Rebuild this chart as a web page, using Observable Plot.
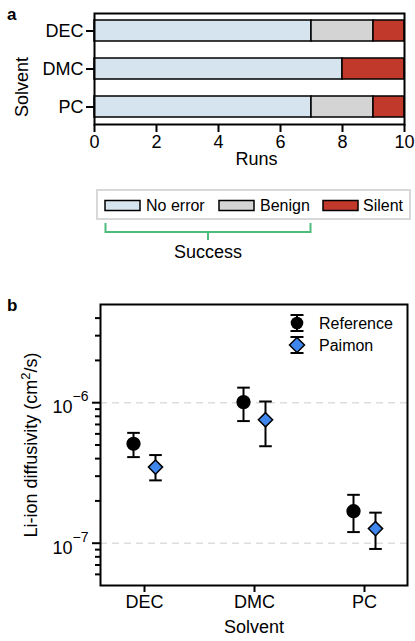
<!DOCTYPE html>
<html><head><meta charset="utf-8">
<script src="https://cdn.jsdelivr.net/npm/d3@7"></script>
<script src="https://cdn.jsdelivr.net/npm/@observablehq/plot@0.6"></script>
<style>
body{margin:0;background:#fff;font-family:"Liberation Sans",Arial,sans-serif;}
#root{position:relative;width:415px;height:641px;overflow:hidden;background:#fff;}
#root > svg, #root > div{position:absolute;}
</style></head><body><div id="root"></div>
<script>
// ---- Data: panel a ----
const solvents = ["DEC", "DMC", "PC"];
const outcomes = ["No error", "Benign", "Silent"];
const runsNoError = [7, 8, 7];
const runsBenign = [2, 0, 2];
const runsSilent = [1, 2, 1];
const outcomeColors = ["#d6e4f0", "#d4d4d4", "#c1392b"];
const runTicks = [0, 2, 4, 6, 8, 10];

// ---- Data: panel b ----
const seriesNames = ["Reference", "Paimon"];
const refValue = [5.1e-7, 1.01e-6, 1.69e-7];
const refLow = [4.1e-7, 7.4e-7, 1.2e-7];
const refHigh = [6.1e-7, 1.28e-6, 2.21e-7];
const paimonValue = [3.48e-7, 7.56e-7, 1.27e-7];
const paimonLow = [2.8e-7, 4.9e-7, 9.1e-8];
const paimonHigh = [4.24e-7, 1.02e-6, 1.65e-7];
const majorTicks = [1e-7, 1e-6];
const minorTicks = [6e-8, 7e-8, 8e-8, 9e-8, 2e-7, 3e-7, 4e-7, 5e-7, 6e-7, 7e-7, 8e-7, 9e-7, 2e-6, 3e-6, 4e-6];
const seriesColors = ["#000000", "#3f87ee"];

const font = '"Liberation Sans", Arial, sans-serif';
const root = document.getElementById("root");
const ns = "http://www.w3.org/2000/svg";

// ---- Panel a ----
const runRows = [];
solvents.forEach((s, i) => {
  [runsNoError[i], runsBenign[i], runsSilent[i]].forEach((v, j) => {
    if (v > 0) runRows.push({solvent: s, outcome: outcomes[j], runs: v});
  });
});

const plotA = Plot.plot({
  width: 415, height: 175,
  marginLeft: 94, marginRight: 11, marginTop: 13, marginBottom: 51,
  x: {domain: [0, 10]},
  y: {domain: solvents, paddingInner: 0.436, paddingOuter: 0.154},
  color: {domain: outcomes, range: outcomeColors},
  style: {fontFamily: font, fontSize: "18px", color: "black", background: "transparent", overflow: "visible"},
  marks: [
    Plot.barX(runRows, Plot.stackX({y: "solvent", x: "runs", fill: "outcome", stroke: "black", strokeWidth: 1.5})),
    Plot.frame({stroke: "black", strokeWidth: 2}),
    Plot.axisX({ticks: runTicks, tickSize: 8, strokeWidth: 2, tickPadding: 3, label: null, fontSize: 18}),
    Plot.axisY({tickSize: 8, strokeWidth: 2, tickPadding: 3, label: null, fontSize: 18}),
    Plot.text(["Runs"], {frameAnchor: "bottom", dy: 40, dx: 7, fontSize: 18}),
    Plot.text(["Solvent"], {frameAnchor: "left", textAnchor: "middle", rotate: -90, dx: -72, dy: 18, fontSize: 18})
  ]
});
plotA.style.left = "0px"; plotA.style.top = "0px";
root.appendChild(plotA);

// ---- Panel b ----
const powFmt = d => "10|" + String(Math.round(Math.log10(d))).replace("-", "\u2212");
const yTitle = "Li-ion diffusivity (cm|2|/s)";

const refRows = solvents.map((s, i) => ({solvent: s, value: refValue[i], low: refLow[i], high: refHigh[i]}));
const paiRows = solvents.map((s, i) => ({solvent: s, value: paimonValue[i], low: paimonLow[i], high: paimonHigh[i]}));

const capSymbol = {draw(ctx, size) { const w = Math.sqrt(size / Math.PI); ctx.moveTo(-w, 0); ctx.lineTo(w, 0); }};

function errMarks(rows, dx, symbol, fill) {
  return [
    Plot.ruleX(rows, {x: "solvent", y1: "low", y2: "high", dx, stroke: "black", strokeWidth: 2}),
    Plot.dot(rows, {x: "solvent", y: "low", dx, symbol: capSymbol, r: 6.3, stroke: "black", strokeWidth: 2, fill: "none"}),
    Plot.dot(rows, {x: "solvent", y: "high", dx, symbol: capSymbol, r: 6.3, stroke: "black", strokeWidth: 2, fill: "none"}),
    Plot.dot(rows, {x: "solvent", y: "value", dx, symbol, r: 6.4, fill, stroke: "black", strokeWidth: 1.5})
  ];
}

const plotB = Plot.plot({
  width: 415, height: 351,
  marginTop: 14, marginBottom: 56, marginLeft: 100, marginRight: 8,
  x: {type: "point", domain: solvents, padding: 0.395},
  y: {type: "log", domain: [5e-8, 5e-6]},
  style: {fontFamily: font, fontSize: "18px", color: "black", background: "transparent", overflow: "visible"},
  marks: [
    Plot.ruleY(majorTicks, {stroke: "#dedede", strokeWidth: 1.5, strokeDasharray: "7,5"}),
    Plot.frame({stroke: "black", strokeWidth: 2}),
    Plot.axisY({ticks: minorTicks, tickSize: 5, strokeWidth: 2, tickFormat: () => "", label: null}),
    Plot.axisY({ticks: majorTicks, tickSize: 8, strokeWidth: 2, tickPadding: 4, tickFormat: powFmt, label: null, fontSize: 18}),
    Plot.axisX({tickSize: 7, strokeWidth: 2, tickPadding: 3, label: null, fontSize: 18}),
    ...errMarks(refRows, -11, "circle", seriesColors[0]),
    ...errMarks(paiRows, 11, "diamond2", seriesColors[1]),
    Plot.text([yTitle], {frameAnchor: "left", textAnchor: "middle", rotate: -90, dx: -69, fontSize: 18}),
    Plot.text(["Solvent"], {frameAnchor: "bottom", dy: 47, fontSize: 18})
  ]
});
plotB.style.left = "0px"; plotB.style.top = "290px";
root.appendChild(plotB);

// superscripts: tick labels "10|−6" and title "...(cm|2|/s)"
function span(t, text, attrs) {
  const s = document.createElementNS(ns, "tspan");
  for (const k in attrs) s.setAttribute(k, attrs[k]);
  s.textContent = text;
  t.appendChild(s);
}
plotB.querySelectorAll("text").forEach(t => {
  const s = t.textContent;
  if (!s.includes("|")) return;
  const parts = s.split("|");
  t.textContent = "";
  if (parts.length === 2) {
    span(t, parts[0], {dy: "5"});
    span(t, parts[1], {dy: "-12", "font-size": "14"});
  } else {
    span(t, parts[0], {});
    span(t, parts[1], {dy: "-7", "font-size": "13"});
    span(t, parts[2], {dy: "7"});
  }
});

// ---- Overlay: panel letters, legends, bracket ----
const ov = document.createElementNS(ns, "svg");
ov.setAttribute("width", 415); ov.setAttribute("height", 641);
ov.style.left = "0px"; ov.style.top = "0px"; ov.style.pointerEvents = "none";
ov.style.fontFamily = font;
root.appendChild(ov);
function el(tag, attrs, text) {
  const e = document.createElementNS(ns, tag);
  for (const k in attrs) e.setAttribute(k, attrs[k]);
  if (text != null) e.textContent = text;
  ov.appendChild(e);
  return e;
}
el("text", {x: 7, y: 20, "font-size": 17, "font-weight": "bold"}, "a");
el("text", {x: 7, y: 311, "font-size": 17, "font-weight": "bold"}, "b");

// legend a
el("rect", {x: 97, y: 190, width: 313, height: 29, fill: "white", stroke: "#d8d8d8", "stroke-width": 2});
const swX = [105, 219, 323], txX = [146, 260, 363];
outcomes.forEach((o, i) => {
  el("rect", {x: swX[i], y: 200.5, width: 35, height: 10, fill: outcomeColors[i], stroke: "black", "stroke-width": 1.5});
  el("text", {x: txX[i], y: 205.5, "font-size": 16, "dominant-baseline": "central"}, o);
});
el("path", {d: "M105.5,223V232H310.5V223M208,232V240", fill: "none", stroke: "#4dbb7c", "stroke-width": 2});
el("text", {x: 208, y: 252, "font-size": 18, "text-anchor": "middle", "dominant-baseline": "central"}, "Success");

// legend b
const lx = 297;
[[315, 331, 323], [337, 353, 345]].forEach(([t, b, c], i) => {
  el("path", {d: `M${lx},${t}V${b}M${lx - 6.5},${t}H${lx + 6.5}M${lx - 6.5},${b}H${lx + 6.5}`, stroke: "black", "stroke-width": 2, fill: "none"});
  if (i === 0) el("circle", {cx: lx, cy: c, r: 6.3, fill: seriesColors[0]});
  else el("path", {d: `M${lx},${c - 7.5}L${lx + 7.5},${c}L${lx},${c + 7.5}L${lx - 7.5},${c}Z`, fill: seriesColors[1], stroke: "black", "stroke-width": 1.5});
  el("text", {x: 319, y: c, "font-size": 16, "dominant-baseline": "central"}, seriesNames[i]);
});
</script></body></html>
